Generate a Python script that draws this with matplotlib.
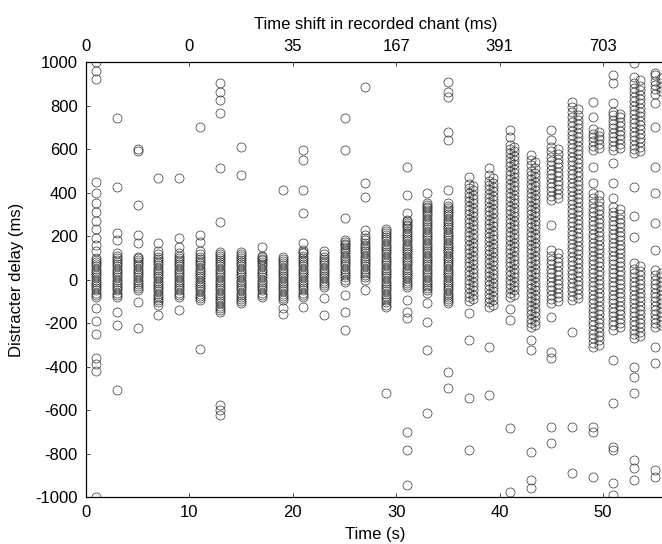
import matplotlib
matplotlib.use("Agg")
import matplotlib.pyplot as plt

plt.rcParams["font.family"] = ["Liberation Sans", "DejaVu Sans"]
plt.rcParams["font.size"] = 12
plt.rcParams["axes.unicode_minus"] = False

# time bins (s), one column of distracter delays (ms) per bin
times = [1, 3, 5, 7, 9, 11, 13, 15, 17, 19, 21, 23, 25, 27,
         29, 31, 33, 35, 37, 39, 41, 43, 45, 47, 49, 51, 53, 55]

delays = [
    # 1
    [1000, 960, 920, 450, 400, 350, 310, 270, 230, 190, 160, 130,
     -80, -60, -40, -20, 0, 20, 40, 60, 80, 100,
     -130, -190, -250, -360, -390, -420, -1000],
    # 3
    [742, 427, 214, 180, -80, -60, -40, -20, 0, 20, 40, 60, 80, 100, 120,
     -149, -209, -508],
    # 5
    [600, 590, 342, 204, 168, -50, -30, -10, 10, 30, 50, 70, 90, 105,
     -103, -222],
    # 7
    [466, 168, -115, -95, -75, -55, -35, -15, 5, 25, 45, 65, 85, 105, 130,
     -163],
    # 9
    [466, 190, 150, -80, -60, -40, -20, 0, 20, 40, 60, 80, 100, 120, -140],
    # 11
    [701, 204, 172, -95, -75, -55, -35, -15, 5, 25, 45, 65, 85, 105, 130,
     -320],
    # 13
    [903, 862, 825, 765, 512, 264,
     -150, -130, -110, -90, -70, -50, -30, -10, 10, 30, 50, 70, 90, 110, 125,
     -577, -600, -623],
    # 15
    [610, 480, -110, -90, -70, -50, -30, -10, 10, 30, 50, 70, 90, 110, 125],
    # 17
    [150, -80, -60, -40, -20, 0, 20, 40, 60, 80, 95, 110],
    # 19
    [411, -95, -75, -55, -35, -15, 5, 25, 45, 65, 85, 105, -130, -160],
    # 21
    [595, 549, 411, 306, 168,
     -80, -60, -40, -20, 0, 20, 40, 60, 80, 100, 120, 135, -126],
    # 23
    [-35, -15, 5, 25, 45, 65, 85, 105, 130, -85, -163],
    # 25
    [742, 595, 283, -10, 10, 30, 50, 70, 90, 110, 130, 150, 165, 180,
     -71, -149, -232],
    # 27
    [885, 443, 380, 228, 0, 20, 40, 60, 80, 100, 120, 140, 160, 180, 205, -48],
    # 29
    [-125, -105, -85, -65, -45, -25, -5, 15, 35, 55, 75, 95, 115, 135, 155,
     175, 195, 215, 230, -522],
    # 31
    [518, 389, 306,
     -35, -15, 5, 25, 45, 65, 85, 105, 125, 145, 165, 185, 205, 225, 245,
     260, 275,
     -94, -149, -177, -701, -784, -945],
    # 33
    [397, -60, -40, -20, 0, 20, 40, 60, 80, 100, 120, 140, 160, 180, 200,
     220, 240, 260, 280, 300, 320, 335, 350,
     -108, -195, -324, -614],
    # 35
    [908, 862, 840, 678, 642, 411,
     -110, -90, -70, -50, -30, -10, 10, 30, 50, 70, 90, 110, 130, 150, 170,
     190, 210, 230, 250, 270, 290, 310, 330, 350,
     -425, -499],
    # 37
    [471, -100, -80, -60, -40, -20, 0, 20, 40, 60, 80, 100, 120, 140, 160,
     180, 200, 220, 240, 260, 280, 300, 320, 340, 360, 380, 400, 420, 440,
     -154, -278, -545, -784],
    # 39
    [512, -125, -105, -85, -65, -45, -25, -5, 15, 35, 55, 75, 95, 115, 135,
     155, 175, 195, 215, 235, 255, 275, 295, 315, 335, 355, 375, 395, 415,
     435, 455, 480,
     -310, -531],
    # 41
    [687, 655, -80, -60, -40, -20, 0, 20, 40, 60, 80, 100, 120, 140, 160,
     180, 200, 220, 240, 260, 280, 300, 320, 340, 360, 380, 400, 420, 440,
     460, 480, 500, 520, 540, 560, 580, 600, 620,
     -134, -186, -683, -975],
    # 43
    [572, -220, -200, -180, -160, -140, -120, -100, -80, -60, -40, -20, 0,
     20, 40, 60, 80, 100, 120, 140, 160, 180, 200, 220, 240, 260, 280, 300,
     320, 340, 360, 380, 400, 420, 440, 460, 480, 500, 525, 550,
     -278, -324, -793, -922, -959],
    # 45
    [687, 642, 365, 385, 405, 425, 445, 465, 485, 505, 525, 545, 565, 590,
     610, 251,
     -110, -90, -70, -50, -30, -10, 10, 30, 50, 70, 90, 110, 135,
     -172, -333, -361, -678, -752],
    # 47
    [815, -95, -75, -55, -35, -15, 5, 25, 45, 65, 85, 105, 125, 145, 165,
     185, 205, 225, 245, 265, 285, 305, 325, 345, 365, 385, 405, 425, 445,
     465, 485, 505, 525, 545, 565, 585, 605, 625, 645, 665, 685, 705, 725,
     745, 770, 795,
     -241, -678, -890],
    # 49
    [815, 747, 595, 615, 635, 655, 670, 690, 518, 443,
     -310, -290, -270, -250, -230, -210, -190, -170, -150, -130, -110, -90,
     -70, -50, -30, -10, 10, 30, 50, 70, 90, 110, 130, 150, 170, 190, 210,
     230, 250, 270, 290, 310, 330, 350, 375, 400,
     -678, -701, -908],
    # 51
    [940, 903, 811, 595, 615, 635, 655, 675, 695, 715, 735, 755, 770,
     536, 443, 374,
     -230, -210, -190, -170, -150, -130, -110, -90, -70, -50, -30, -10, 10,
     30, 50, 70, 90, 110, 130, 150, 170, 190, 210, 230, 250, 270, 290, 310,
     335,
     -370, -568, -770, -784, -936, -991],
    # 53
    [995, 580, 600, 620, 640, 660, 680, 700, 720, 740, 760, 780, 800, 820,
     840, 860, 880, 905, 930,
     426, 290, 197,
     -270, -250, -230, -210, -190, -170, -150, -130, -110, -90, -70, -50,
     -30, -10, 10, 30, 50, 75,
     -402, -448, -522, -830, -867, -922],
    # 55
    [949, 855, 875, 895, 915, 940, 811, 701, 518, 397, 260, 136,
     -220, -200, -180, -160, -140, -120, -100, -80, -60, -40, -20, 0, 20, 45,
     -310, -384, -876, -908],
]

# further trials inside the dense part of each bin; later bins spread
# over a little more of the 2 s window, hence the time offset
extra_offset = [0, 0, 0, 0, 0, 0, 0, 0, 0, 0, 0, 0, 0, 0,
                0, 0, 0, 0, 0.4, 0.4, 0.4, 0.4, 0.6, 0.6, 0.6, 0.6, 0.6, 0.6]

extra_delays = [
    [-70, -50, -30, -10, 10, 30, 50, 70, 90],
    [-70, -50, -30, -10, 10, 30, 50, 70, 90, 110],
    [-40, -20, 0, 20, 40, 60, 80, 98],
    [-105, -85, -65, -45, -25, -5, 15, 35, 55, 75, 95, 118],
    [-70, -50, -30, -10, 10, 30, 50, 70, 90, 110],
    [-85, -65, -45, -25, -5, 15, 35, 55, 75, 95, 118],
    [-140, -120, -100, -80, -60, -40, -20, 0, 20, 40, 60, 80, 100, 118],
    [-100, -80, -60, -40, -20, 0, 20, 40, 60, 80, 100, 118],
    [-70, -50, -30, -10, 10, 30, 50, 70, 88, 102],
    [-85, -65, -45, -25, -5, 15, 35, 55, 75, 95],
    [-70, -50, -30, -10, 10, 30, 50, 70, 90, 110, 128],
    [-25, -5, 15, 35, 55, 75, 95, 118],
    [0, 20, 40, 60, 80, 100, 120, 140, 158, 172],
    [10, 30, 50, 70, 90, 110, 130, 150, 170, 192],
    [-115, -95, -75, -55, -35, -15, 5, 25, 45, 65, 85, 105, 125, 145, 165,
     185, 205, 222],
    [-25, -5, 15, 35, 55, 75, 95, 115, 135, 155, 175, 195, 215, 235, 252,
     268],
    [-50, -30, -10, 10, 30, 50, 70, 90, 110, 130, 150, 170, 190, 210, 230,
     250, 270, 290, 310, 328, 343],
    [-100, -80, -60, -40, -20, 0, 20, 40, 60, 80, 100, 120, 140, 160, 180,
     200, 220, 240, 260, 280, 300, 320, 340],
    [-90, -70, -50, -30, -10, 10, 30, 50, 70, 90, 110, 130, 150, 170, 190,
     210, 230, 250, 270, 290, 310, 330, 350, 370, 390, 410, 430],
    [-115, -95, -75, -55, -35, -15, 5, 25, 45, 65, 85, 105, 125, 145, 165,
     185, 205, 225, 245, 265, 285, 305, 325, 345, 365, 385, 405, 425, 445,
     468],
    [-70, -50, -30, -10, 10, 30, 50, 70, 90, 110, 130, 150, 170, 190, 210,
     230, 250, 270, 290, 310, 330, 350, 370, 390, 410, 430, 450, 470, 490,
     510, 530, 550, 570, 590, 610],
    [-210, -190, -170, -150, -130, -110, -90, -70, -50, -30, -10, 10, 30,
     50, 70, 90, 110, 130, 150, 170, 190, 210, 230, 250, 270, 290, 310, 330,
     350, 370, 390, 410, 430, 450, 470, 490, 512, 538],
    [375, 395, 415, 435, 455, 475, 495, 515, 535, 555, 578, 600,
     -100, -80, -60, -40, -20, 0, 20, 40, 60, 80, 100, 122],
    [-85, -65, -45, -25, -5, 15, 35, 55, 75, 95, 115, 135, 155, 175, 195,
     215, 235, 255, 275, 295, 315, 335, 355, 375, 395, 415, 435, 455, 475,
     495, 515, 535, 555, 575, 595, 615, 635, 655, 675, 695, 715, 735, 758,
     782],
    [605, 625, 645, 662, 680,
     -300, -280, -260, -240, -220, -200, -180, -160, -140, -120, -100, -80,
     -60, -40, -20, 0, 20, 40, 60, 80, 100, 120, 140, 160, 180, 200, 220,
     240, 260, 280, 300, 320, 340, 362, 388],
    [605, 625, 645, 665, 685, 705, 725, 745, 762,
     -220, -200, -180, -160, -140, -120, -100, -80, -60, -40, -20, 0, 20,
     40, 60, 80, 100, 120, 140, 160, 180, 200, 220, 240, 260, 280, 300, 322],
    [590, 610, 630, 650, 670, 690, 710, 730, 750, 770, 790, 810, 830, 850,
     870, 892, 918,
     -260, -240, -220, -200, -180, -160, -140, -120, -100, -80, -60, -40,
     -20, 0, 20, 40, 62],
    [865, 885, 905, 928,
     -210, -190, -170, -150, -130, -110, -90, -70, -50, -30, -10, 10, 32],
]

top_ticks = [0, 10, 20, 30, 40, 50]
top_labels = ["0", "0", "35", "167", "391", "703"]

fig = plt.figure(figsize=(6.62, 5.44), dpi=100)
ax = fig.add_axes([0.130, 0.0864, 0.8746, 0.7996])

marker = dict(linestyle="none", marker="o", mfc="none", mec="0.2",
              ms=6.5, mew=0.5)
for t, ys in zip(times, delays):
    ax.plot([t] * len(ys), ys, **marker)
for t, dt, ys in zip(times, extra_offset, extra_delays):
    ax.plot([t + dt] * len(ys), ys, **marker)

ax.set_xlim(0, 56)
ax.set_ylim(-1000, 1000)
ax.set_xticks([0, 10, 20, 30, 40, 50])
ax.set_yticks(range(-1000, 1001, 200))
ax.tick_params(direction="in", length=3, width=0.5, pad=6, top=False)
ax.set_xlabel("Time (s)", labelpad=5)
ax.set_ylabel("Distracter delay (ms)", labelpad=8)
ax.spines["right"].set_visible(False)

ax2 = ax.twiny()
ax2.set_xlim(ax.get_xlim())
ax2.set_xticks(top_ticks)
ax2.set_xticklabels(top_labels)
ax2.tick_params(direction="in", length=3, width=0.5, pad=6)
ax2.set_xlabel("Time shift in recorded chant (ms)", labelpad=7)
ax2.spines["right"].set_visible(False)

fig.savefig("out.png", dpi=100)
